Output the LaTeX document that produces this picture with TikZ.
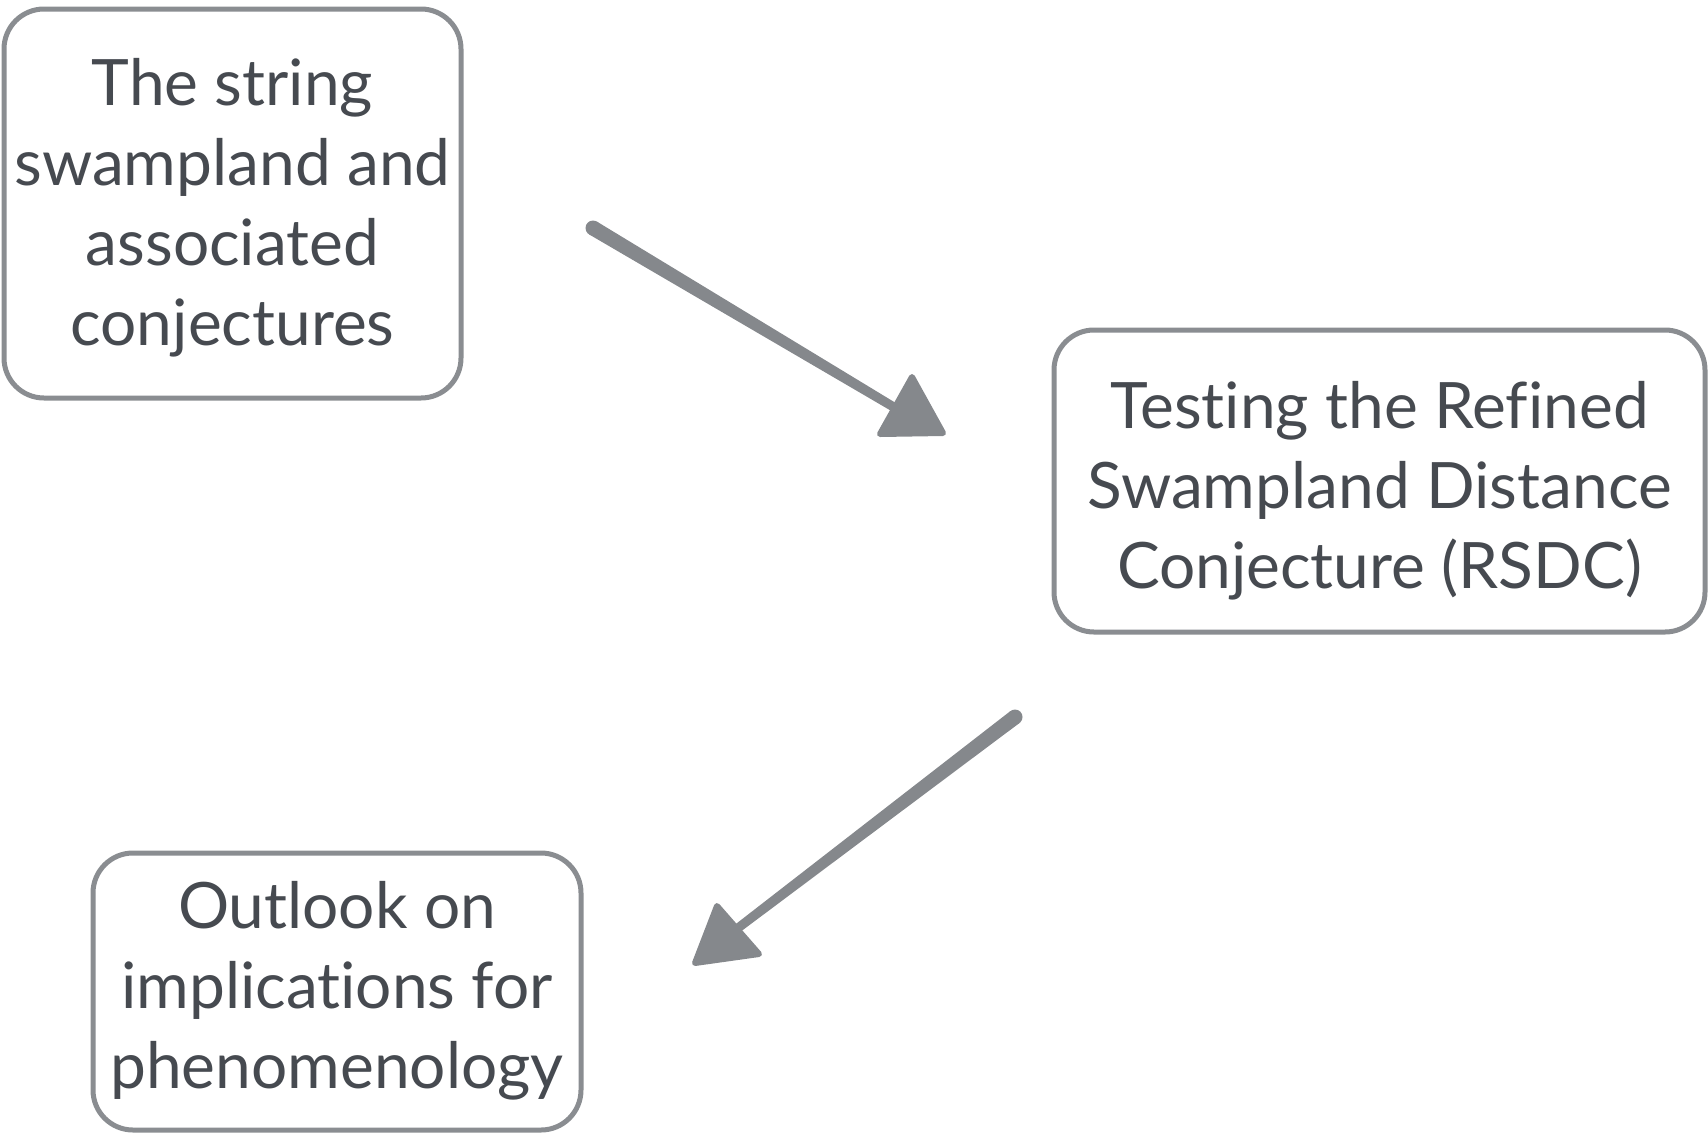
\documentclass[tikz,border=0pt]{standalone}
\usepackage{fontspec}
\setmainfont{Lato}[Ligatures=NoCommon]
\usetikzlibrary{calc}
\definecolor{boxline}{RGB}{138,141,145}
\definecolor{txt}{RGB}{70,74,80}
\definecolor{arrowc}{RGB}{133,136,140}
\tikzset{
  topicbox/.style={draw=boxline, line width=5pt, rounded corners=40pt, fill=white,
    text=txt, align=center, inner sep=0pt, anchor=base,
    font=\fontsize{64}{80}\selectfont},
  headtri/.style={fill=arrowc, draw=arrowc, line width=6pt, line join=round},
}
\begin{document}
\begin{tikzpicture}[x=1pt,y=-1pt]
\useasboundingbox (0,0) rectangle (1708,1133);
% boxes (anchor base = baseline of last line)
\node[topicbox, minimum width=457pt, text height=336pt, text depth=53pt] (b1) at (232.5,345)
  {The string\\swampland and\\associated\\conjectures};
\node[topicbox, minimum width=651pt, text height=258pt, text depth=44pt] (b2) at (1379.5,588)
  {Testing the Refined\\Swampland Distance\\Conjecture (RSDC)};
\node[topicbox, minimum width=488pt, text height=235pt, text depth=42pt] (b3) at (337,1088)
  {Outlook on\\implications for\\phenomenology};
% arrow 1
\coordinate (a1s) at (593,228);
\coordinate (a1e) at (902,412);
\fill[arrowc] ($(a1s)!7.5pt!90:(a1e)$) -- ($(a1e)!4.5pt!-90:(a1s)$) -- ($(a1e)!4.5pt!90:(a1s)$) -- ($(a1s)!7.5pt!-90:(a1e)$) -- cycle;
\fill[arrowc] (a1s) circle (7.5pt);
\coordinate (t1a) at (912,377);
\coordinate (t1b) at (880,434);
\coordinate (t1c) at (943,433);
\filldraw[headtri] (t1a) -- (t1b) -- (t1c) -- cycle;
% arrow 2
\coordinate (a2s) at (1015,717);
\coordinate (a2e) at (738,928);
\fill[arrowc] ($(a2s)!7.5pt!90:(a2e)$) -- ($(a2e)!4.5pt!-90:(a2s)$) -- ($(a2e)!4.5pt!90:(a2s)$) -- ($(a2s)!7.5pt!-90:(a2e)$) -- cycle;
\fill[arrowc] (a2s) circle (7.5pt);
\coordinate (t2a) at (717,906);
\coordinate (t2b) at (695,963);
\coordinate (t2c) at (759,954);
\filldraw[headtri] (t2a) -- (t2b) -- (t2c) -- cycle;
\end{tikzpicture}
\end{document}
